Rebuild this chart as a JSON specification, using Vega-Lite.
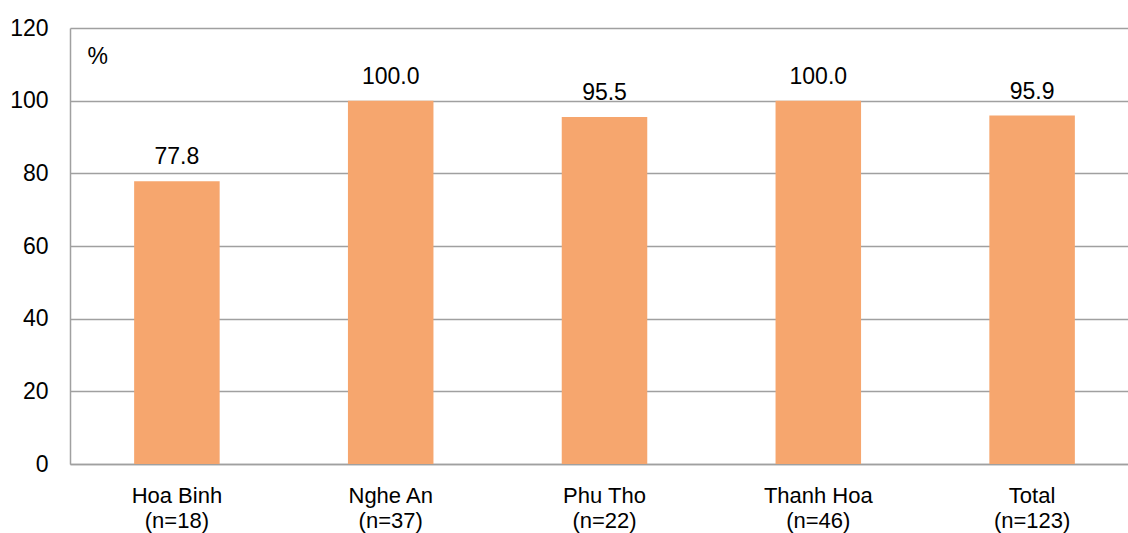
{
  "$schema": "https://vega.github.io/schema/vega-lite/v6.json",
  "autosize": {"type": "none"},
  "width": 1069,
  "height": 436,
  "padding": {"left": 70, "top": 28, "right": 0, "bottom": 69},
  "background": "white",
  "config": {
    "view": {"stroke": null},
    "font": "Liberation Sans",
    "axis": {"labelFont": "Liberation Sans", "titleFont": "Liberation Sans"}
  },
  "data": {
    "values": [
      {"region": "Hoa Binh|(n=18)", "pct": 77.8},
      {"region": "Nghe An|(n=37)", "pct": 100.0},
      {"region": "Phu Tho|(n=22)", "pct": 95.5},
      {"region": "Thanh Hoa|(n=46)", "pct": 100.0},
      {"region": "Total|(n=123)", "pct": 95.9}
    ]
  },
  "encoding": {
    "x": {
      "field": "region",
      "type": "nominal",
      "sort": null,
      "scale": {"paddingInner": 0.6, "paddingOuter": 0.3},
      "axis": {
        "title": null,
        "labelAngle": 0,
        "labelExpr": "split(datum.label, '|')",
        "labelFontSize": 22,
        "labelLineHeight": 25,
        "labelColor": "#000000",
        "labelPadding": 21,
        "labelBaseline": "top",
        "ticks": false,
        "domainColor": "#A0A0A0",
        "domainWidth": 1.5
      }
    },
    "y": {
      "field": "pct",
      "type": "quantitative",
      "scale": {"domain": [0, 120], "nice": false},
      "axis": {
        "values": [0, 20, 40, 60, 80, 100, 120],
        "title": "%",
        "titleAngle": 0,
        "titleX": 17,
        "titleY": 35,
        "titleAlign": "left",
        "titleBaseline": "alphabetic",
        "titleFontSize": 23,
        "titleFontWeight": "normal",
        "titleColor": "#000000",
        "labelFontSize": 23,
        "labelColor": "#000000",
        "labelPadding": 22,
        "ticks": false,
        "domainColor": "#A0A0A0",
        "domainWidth": 1.5,
        "gridColor": "#A0A0A0",
        "gridWidth": 1.5
      }
    }
  },
  "layer": [
    {
      "mark": {"type": "bar", "color": "#F6A66E"}
    },
    {
      "mark": {"type": "text", "baseline": "alphabetic", "dy": -17, "fontSize": 23, "color": "#000000"},
      "encoding": {
        "text": {"field": "pct", "type": "quantitative", "format": ".1f"}
      }
    }
  ]
}
